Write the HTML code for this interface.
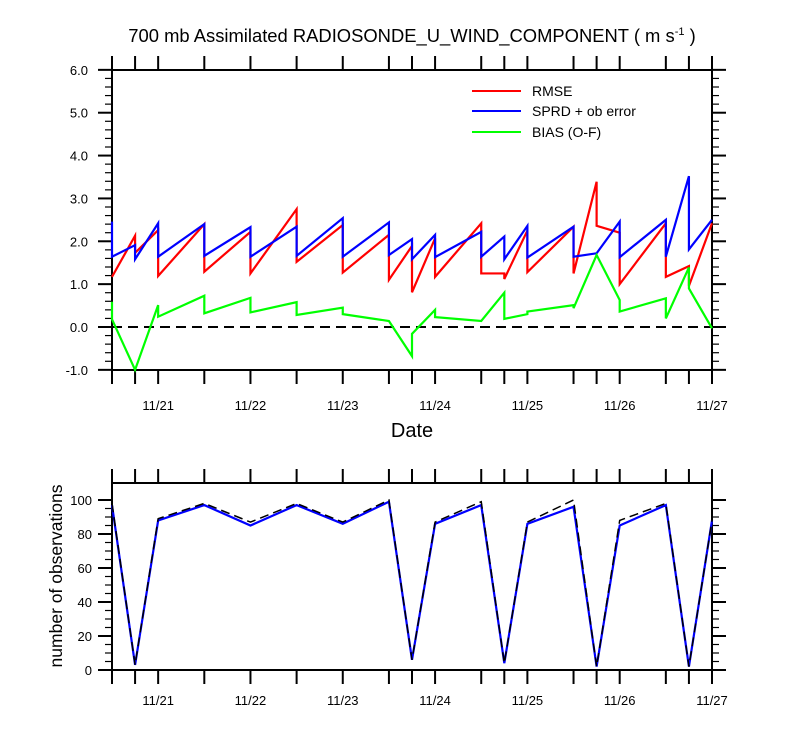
<!DOCTYPE html>
<html><head><meta charset="utf-8"><style>
body{margin:0;background:#fff;}
svg{display:block;font-family:"Liberation Sans",sans-serif;}
</style></head><body>
<svg id="chart" width="800" height="750" xmlns="http://www.w3.org/2000/svg">
<text x="412" y="42" font-size="18.4" text-anchor="middle">700 mb Assimilated RADIOSONDE_U_WIND_COMPONENT ( m s<tspan dy="-7" font-size="11">-1</tspan><tspan dy="7"> )</tspan></text>
<text x="412" y="437" font-size="20" text-anchor="middle">Date</text>
<text transform="translate(62,576) rotate(-90)" font-size="17.5" text-anchor="middle">number of observations</text>
<g id="topPlot"></g>
<g id="botPlot"></g>
</svg>
<script>
// hours since 11/20 12Z, each with [before, after] values (sawtooth pairs)
const hours=[0,6,12,24,36,48,60,72,78,84,96,102,108,120,126,132,144,150,156];
const rmse=[[1.17,1.17],[2.13,1.73],[2.26,1.19],[2.40,1.29],[2.22,1.25],[2.75,1.52],[2.38,1.27],[2.15,1.10],[1.89,0.81],[2.07,1.17],[2.42,1.25],[1.25,1.12],[2.25,1.28],[2.34,1.25],[3.39,2.36],[2.20,1.00],[2.42,1.17],[1.42,0.96],[2.42,2.42]];
const sprd=[[2.46,1.64],[1.91,1.58],[2.42,1.64],[2.40,1.66],[2.33,1.64],[2.34,1.66],[2.54,1.64],[2.44,1.68],[2.05,1.58],[2.15,1.63],[2.22,1.64],[2.11,1.58],[2.36,1.62],[2.34,1.64],[1.72,1.72],[2.46,1.63],[2.50,1.64],[3.52,1.81],[2.50,2.50]];
const bias=[[0.59,0.18],[-1.0,-1.0],[0.51,0.24],[0.73,0.32],[0.68,0.34],[0.58,0.28],[0.45,0.30],[0.14,0.14],[-0.68,-0.16],[0.40,0.23],[0.14,0.14],[0.80,0.19],[0.30,0.36],[0.51,0.44],[1.68,1.68],[0.63,0.36],[0.67,0.20],[1.39,0.90],[-0.03,-0.03]];
const nobsUsed=[97,3,88,97,85,97,86,99,6,86,97,4,86,96,2,85,97,2,88];
const nobsTotal=[98,3,89,98,87,98,87,100,6,87,99,4,87,100,2,88,98,2,88];
const dateTicks=[12,36,60,84,108,132,156];
const dateLabels=["11/21","11/22","11/23","11/24","11/25","11/26","11/27"];
const topTicks=[-1,0,1,2,3,4,5,6];
const botTicks=[0,20,40,60,80,100];

const NS="http://www.w3.org/2000/svg";
const X0=112,X1=712;
const xs=h=>X0+h*(X1-X0)/156;
const yTop=v=>327-v*300/7;
const yBot=v=>670-v*1.7;
function mk(parent,tag,attrs){const e=document.createElementNS(NS,tag);for(const k in attrs)e.setAttribute(k,attrs[k]);parent.appendChild(e);return e;}
function line(p,x1,y1,x2,y2,w,c){return mk(p,'line',{x1:x1,y1:y1,x2:x2,y2:y2,stroke:c||'#000','stroke-width':w||1});}

function axes(g,yt,yb,ysc,ticks,fmt,minorStep,labelY){
  const r=mk(g,'rect',{x:X0,y:yt,width:X1-X0,height:yb-yt,fill:'none',stroke:'#000','stroke-width':2});
  
  
  hours.forEach(h=>{const x=xs(h);
    line(g,x,yt,x,yt-14,2);line(g,x,yb,x,yb+14,2);});
  const lo=ticks[0],hi=ticks[ticks.length-1];
  for(let v=lo;v<=hi+1e-9;v+=minorStep){const y=ysc(v);line(g,X0,y,X0-7,y,1.2);line(g,X1,y,X1+7,y,1.2);}
  ticks.forEach(v=>{const y=ysc(v);line(g,X0,y,X0-14,y,2);line(g,X1,y,X1+14,y,2);
    const t=mk(g,'text',{x:X0-(fmt?24:20),y:y+5,'font-size':13,'text-anchor':'end'});t.textContent=fmt?v.toFixed(1):v;
    
    });
  dateTicks.forEach((h,i)=>{const t=mk(g,'text',{x:xs(h),y:labelY,'font-size':13,'text-anchor':'middle'});t.textContent=dateLabels[i];
    
    });
}
function pairPath(arr,ysc){let d='';hours.forEach((h,i)=>{const x=xs(h);d+=(i?'L':'M')+x+','+ysc(arr[i][0])+'L'+x+','+ysc(arr[i][1]);});return d;}
function simplePath(arr,ysc){return hours.map((h,i)=>(i?'L':'M')+xs(h)+','+ysc(arr[i])).join('');}

const topG=document.getElementById('topPlot');
axes(topG,70,370,yTop,topTicks,true,0.2,410);
const zl=line(topG,X0,yTop(0),X1,yTop(0),2);zl.setAttribute('stroke-dasharray','10,6');


[[rmse,'#ff0000','rmse-line'],[sprd,'#0000ff','sprd-line'],[bias,'#00ff00','bias-line']].forEach(s=>{
  const p=mk(topG,'path',{d:pairPath(s[0],yTop),fill:'none',stroke:s[1],'stroke-width':2.2});
  
  
});
[['RMSE','#ff0000',91],['SPRD + ob error','#0000ff',111],['BIAS (O-F)','#00ff00',132]].forEach(l=>{
  const g=mk(topG,'g',{});
  
  
  line(g,472,l[2],521,l[2],2,l[1]);
  const t=mk(g,'text',{x:532,y:l[2]+5,'font-size':14});t.textContent=l[0];
});

const botG=document.getElementById('botPlot');
axes(botG,483,670,yBot,botTicks,false,5,705);
const pu=mk(botG,'path',{d:simplePath(nobsUsed,yBot),fill:'none',stroke:'#0000ff','stroke-width':2.2});


const pt=mk(botG,'path',{d:simplePath(nobsTotal,yBot),fill:'none',stroke:'#000','stroke-width':1.5,'stroke-dasharray':'9,5'});


</script>
</body></html>
